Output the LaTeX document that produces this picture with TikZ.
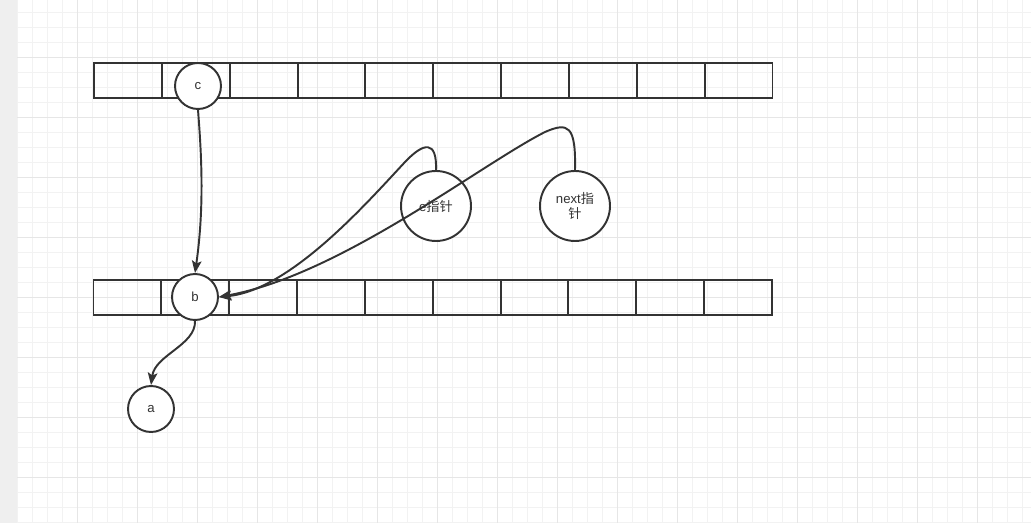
\documentclass[tikz,border=0pt]{standalone}
\usepackage{fontspec}
\setmainfont{Liberation Sans}
\newfontfamily\cjk{Noto Sans CJK SC}
\usetikzlibrary{arrows.meta}
\usetikzlibrary{calc,positioning}

\definecolor{inkgray}{HTML}{333333}
\definecolor{minorgrid}{HTML}{F2F2F2}
\definecolor{majorgrid}{HTML}{E6E6E6}
\definecolor{sidebar}{HTML}{EFEFEF}

\begin{document}
\begin{tikzpicture}[x=0.02cm,y=-0.02cm]
    \def\cellWidth{1.357cm}
    \def\cellHeight{0.7cm}
    \def\smallNode{0.92cm}
    \def\bigNode{1.4cm}

    \tikzstyle{cell}=[draw=inkgray,line width=1.1pt,minimum width=\cellWidth,minimum height=\cellHeight,inner sep=0pt,outer sep=0pt]
    \tikzstyle{elem}=[circle,draw=inkgray,fill=white,line width=1.1pt,minimum size=\smallNode,inner sep=0pt,text=inkgray,font=\fontsize{7.5}{8.5}\selectfont]
    \tikzstyle{pointer}=[elem,minimum size=\bigNode,align=center]
    \tikzstyle{link}=[draw=inkgray,line width=1.1pt,-{Stealth[length=7pt,width=5.5pt,inset=1.5pt]}]

    \useasboundingbox (0,0) rectangle (1031,523);

    % Background grid
    \fill[white] (0,0) rectangle (1031,523);
    \foreach \gx in {17,32,...,1031} \draw[minorgrid,line width=0.5pt] (\gx,0) -- (\gx,523);
    \foreach \gy in {12,27,...,523} \draw[minorgrid,line width=0.5pt] (17,\gy) -- (1031,\gy);
    \foreach \gx in {77,137,...,1031} \draw[majorgrid,line width=0.5pt] (\gx,0) -- (\gx,523);
    \foreach \gy in {57,117,...,523} \draw[majorgrid,line width=0.5pt] (17,\gy) -- (1031,\gy);
    \fill[sidebar] (0,0) rectangle (16.5,523);

    % Arrays
    \foreach \i in {0,...,9} {
      \node[cell] (top\i) at (94+67.85*\i+33.9,80.5) {};
      \node[cell] (bot\i) at (93.5+67.85*\i+33.9,297.5) {};
    }

    % Elements
    \node[elem] (c) at (198,86) {c};
    \node[elem] (b) at (195,297) {b};
    \node[elem] (a) at (151,409) {a};

    % Pointers
    \node[pointer] (ePtr) at (436,206) {e{\cjk 指针}};
    \node[pointer] (nextPtr) at (575,206) {next{\cjk 指}\\{\cjk 针}};

    % Links
    \draw[link] (c.south) .. controls (202,160) and (204,210) .. (b.north);
    \draw[link] (b.south) .. controls (196,345) and (155,355) .. (a.north);
    \draw[link] (ePtr.north) .. controls (437,140) and (424,142) .. (405,162)
      .. controls (365,205) and (290,290) .. (b.east);
    \draw[link] (nextPtr.north) .. controls (576,125) and (568,122) .. (545,132)
      .. controls (480,165) and (340,275) .. (b.east);
\end{tikzpicture}
\end{document}
